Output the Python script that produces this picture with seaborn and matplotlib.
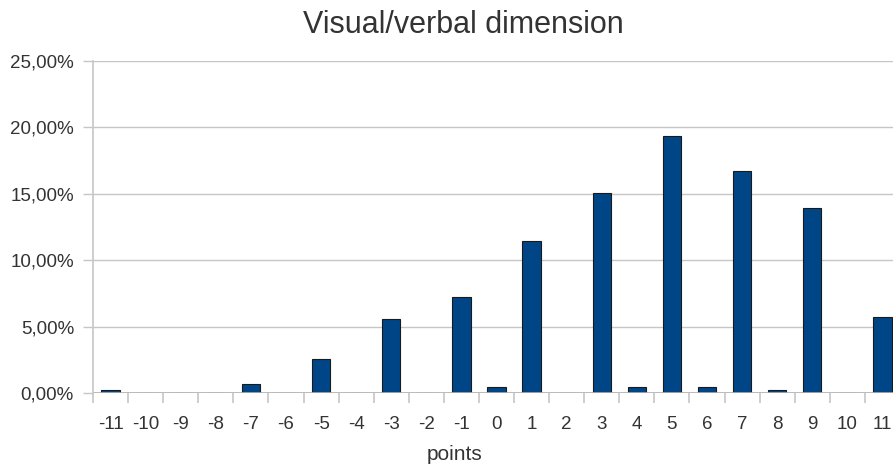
import numpy as np
import pandas as pd
import seaborn as sns
import matplotlib.pyplot as plt
from matplotlib.ticker import FuncFormatter, FixedLocator

# Define plot fontsizes
TF = 22     # Title font
LBF = 15    # Label font size
TS = 13.5   # Tick size

points = [-11, -10, -9, -8, -7, -6, -5, -4, -3, -2, -1, 0,
          1, 2, 3, 4, 5, 6, 7, 8, 9, 10, 11]
share = [0.25, 0.0, 0.0, 0.0, 0.7, 0.0, 2.6, 0.0, 5.6, 0.0, 7.25, 0.5,
         11.45, 0.0, 15.1, 0.5, 19.35, 0.5, 16.75, 0.25, 13.95, 0.0, 5.77]

data = pd.DataFrame({'points': [str(p) for p in points], 'share': share})

sns.set_theme(style='white')
plt.rcParams['font.family'] = ['Liberation Sans', 'DejaVu Sans']

fig = plt.figure(figsize=(8.93, 4.68), dpi=100)
ax = fig.add_axes([93/893, 1 - 393.3/468, 807/893, 332.3/468])

grid_c = '#c6c6c6'
ax.set_axisbelow(True)
ax.yaxis.grid(True, color=grid_c, lw=1)

sns.barplot(data=data, x='points', y='share', ax=ax, color='#004586',
            saturation=1, width=0.52, edgecolor='#1a1a1a', linewidth=0.8)

ax.set_xlim(-0.5, len(points) - 0.5)
ax.set_ylim(0, 25)
ax.set_yticks(np.arange(0, 26, 5))
ax.yaxis.set_major_formatter(FuncFormatter(lambda v, _: f'{v:.2f}%'.replace('.', ',')))

for s in ['top', 'right', 'bottom']:
    ax.spines[s].set_visible(False)
ax.spines['left'].set_color(grid_c)
ax.spines['left'].set_linewidth(1.2)
ax.axhline(0, color='#b0b0b0', lw=1.2, zorder=1)

ax.xaxis.set_minor_locator(FixedLocator(np.arange(-0.5, len(points), 1)))
ax.tick_params(axis='x', which='major', length=0, pad=16, labelsize=TS, labelcolor='#333333')
ax.tick_params(axis='x', which='minor', length=7.5, width=1.2, color=grid_c, bottom=True)
ax.tick_params(axis='y', which='major', length=7.2, width=1, color=grid_c, left=True,
               pad=6.5, labelsize=TS, labelcolor='#333333')

ax.set_xlabel('')
ax.set_ylabel('')

fig.text(463/893, 1 - 33/468, 'Visual/verbal dimension', ha='center', va='baseline',
         fontsize=TF, color='#333333')
fig.text(454.5/893, 1 - 460/468, 'points', ha='center', va='baseline',
         fontsize=LBF, color='#333333')

fig.savefig('out.png', dpi=100)
